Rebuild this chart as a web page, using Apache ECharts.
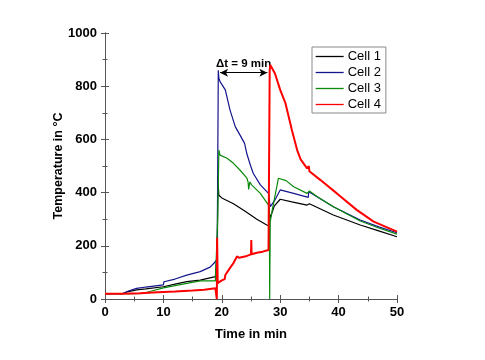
<!DOCTYPE html>
<html><head><meta charset="utf-8">
<script src="https://cdn.jsdelivr.net/npm/echarts@6/dist/echarts.min.js"></script>
<style>html,body{margin:0;padding:0;background:#fff}#c{width:485px;height:360px}</style>
</head><body><div id="c"></div>
<script>
const cell1Time = [0,3,4,5.4,7,10,10.3,12,14,16.3,18.9,19.2,19.25,19.3,19.5,20,22,24,26,27.7,28.1,28.2,28.3,29,30,32,34.6,34.8,35,39.1,43.7,47,50];
const cell1Temp = [20,20,28,34,38,46,50,56,65,71,84,90,200,455,390,380,358,330,300,278,275,320,305,350,375,365,353,350,358,316,278,255,234];

const cell2Time = [0,3,4,5.4,7,10,10.1,12,14,16.3,18,18.9,19.2,19.25,19.4,19.5,19.7,20.6,21.4,22.3,23.1,23.9,24.3,24.9,25.4,26.6,28,28.2,28.3,29.1,30,32.3,34.8,34.9,35,37,39.1,43.7,47,50];
const cell2Temp = [20,20,30,40,45,53,65,75,90,103,120,140,150,300,860,830,817,786,711,648,617,585,545,503,472,429,397,360,347,372,410,397,382,403,400,375,347,297,270,249];

const cell3Time = [0,5,6.6,8,10,12,14,16.3,18.9,19.2,19.3,19.5,19.7,20.9,22,23.1,24.3,24.5,24.6,24.8,25.1,26.6,28,28.15,28.2,28.25,28.3,28.6,29.7,31,32.3,34.6,34.8,35,36.3,39.1,43.7,47,50];
const cell3Temp = [20,20,21,30,42,50,59,68,68,70,300,560,541,529,510,485,454,440,412,440,429,397,353,345,0,0,291,330,454,445,422,397,395,406,385,347,293,266,244];

const cell4Time = [0,3,6,9,12,15,17,18.9,19.1,19.15,19.2,19.3,19.35,19.5,20,20.5,20.6,20.9,21.5,22,22.6,23,24.3,25,25.05,25.1,25.2,26,27,28,28.1,28.2,28.3,29.1,30,30.9,32,32.9,33.5,34.6,34.8,34.9,35,36.9,39.7,43.1,46,50];
const cell4Temp = [20,20,22,25,28,32,35,40,45,0,230,60,55,60,70,75,90,100,120,135,160,155,162,168,222,168,170,174,178,184,190,860,880,848,786,736,635,560,525,491,485,500,480,447,397,335,291,253];

const xTicks = [0,10,20,30,40,50];
const yTicks = [0,200,400,600,800,1000];
const seriesNames = ['Cell 1','Cell 2','Cell 3','Cell 4'];
const seriesColors = ['#000000','#14148c','#0a8a0a','#ff0000'];
const arrowFrom = [19.7, 851];
const arrowTo = [27.8, 851];
const annotationText = 'Δt = 9 min';

const pair = (t, v) => t.map((x, i) => [x, v[i]]);
const allData = [pair(cell1Time, cell1Temp), pair(cell2Time, cell2Temp), pair(cell3Time, cell3Temp), pair(cell4Time, cell4Temp)];

const font = 'Liberation Sans, Arial, sans-serif';
const axisCommon = {
  type: 'value',
  axisLine: {show: true, lineStyle: {color: '#555', width: 1}},
  axisTick: {show: true, inside: true, length: 4, lineStyle: {color: '#555'}},
  minorTick: {show: true, splitNumber: 2, length: 2.5, lineStyle: {color: '#555'}},
  splitLine: {show: false},
  minorSplitLine: {show: false}
};

const chart = echarts.init(document.getElementById('c'), null, {renderer: 'canvas'});
const series = allData.map((d, i) => ({
  name: seriesNames[i],
  type: 'line',
  data: d,
  symbol: 'none',
  showSymbol: false,
  animation: false,
  lineStyle: {color: seriesColors[i], width: i === 3 ? 2 : 1.2},
  itemStyle: {color: seriesColors[i]},
  z: 2 + i
}));
series[0].markLine = {
  silent: true,
  symbol: ['arrow', 'arrow'],
  symbolSize: [6, 8],
  lineStyle: {color: '#000', width: 1, type: 'solid'},
  label: {show: true, position: 'middle', formatter: annotationText, fontWeight: 'bold', fontSize: 11.5, color: '#000', fontFamily: font, distance: 3},
  data: [[{coord: arrowFrom}, {coord: arrowTo}]]
};

chart.setOption({
  animation: false,
  backgroundColor: '#fff',
  grid: {left: 105, top: 33, right: 88, bottom: 61},
  legend: {
    orient: 'vertical', left: 312, top: 47,
    borderColor: '#888', borderWidth: 1, borderRadius: 0,
    padding: [3, 5, 2, 3], itemGap: 3, itemWidth: 28, itemHeight: 13,
    textStyle: {fontSize: 13, color: '#000', fontFamily: font, padding: [0, 0, 0, -1]},
    itemStyle: {opacity: 0},
    lineStyle: {width: 1.3},
    data: seriesNames
  },
  xAxis: [
    Object.assign({}, axisCommon, {
      position: 'bottom', min: 0, max: 50, interval: 10,
      name: 'Time in min', nameLocation: 'middle', nameGap: 29, nameMoveOverlap: false,
      nameTextStyle: {fontWeight: 'bold', fontSize: 13, color: '#000', fontFamily: font},
      axisLabel: {fontWeight: 'bold', fontSize: 13, color: '#000', fontFamily: font, margin: 7,
        customValues: xTicks}
    }),
    Object.assign({}, axisCommon, {
      position: 'top', min: 0, max: 50, interval: 10, axisLabel: {show: false}
    })
  ],
  yAxis: [
    Object.assign({}, axisCommon, {
      position: 'left', min: 0, max: 1000, interval: 200,
      name: 'Temperature in °C', nameLocation: 'middle', nameGap: 40, nameMoveOverlap: false,
      nameTextStyle: {fontWeight: 'bold', fontSize: 12.5, color: '#000', fontFamily: font},
      axisLabel: {fontWeight: 'bold', fontSize: 13, color: '#000', fontFamily: font, margin: 8,
        customValues: yTicks, formatter: v => String(v)}
    }),
    Object.assign({}, axisCommon, {
      position: 'right', min: 0, max: 1000, interval: 200, axisLabel: {show: false}
    })
  ],
  series: series
});
</script></body></html>
